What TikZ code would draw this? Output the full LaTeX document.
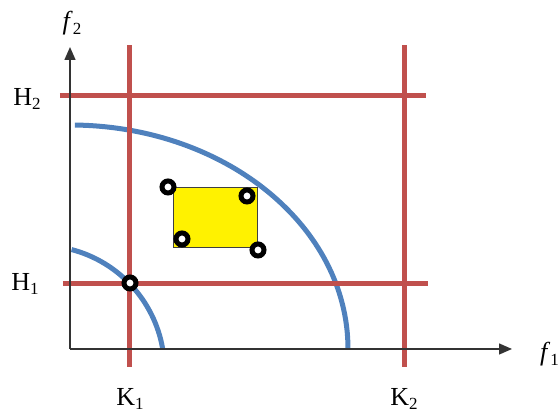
\documentclass[tikz,border=0pt]{standalone}
\usepackage{fontspec}
\setmainfont{Liberation Serif}
\usetikzlibrary{arrows.meta}
\definecolor{lineRed}{RGB}{192,80,77}
\definecolor{arcBlue}{RGB}{79,129,189}
\newcommand{\lowidx}[1]{\raisebox{-0.4ex}{\fontsize{17}{17}\selectfont #1}}

\begin{document}
\begin{tikzpicture}[x=1pt,y=1pt,
  axis/.style={draw=black!80, line width=1.4pt, -{Triangle[length=13pt,width=11pt]}},
  level/.style={draw=lineRed, line width=5pt},
  front/.style={draw=arcBlue, line width=5pt},
  marker/.style={circle, draw=black, fill=white, line width=5pt, minimum size=12pt, inner sep=0pt},
  lbl/.style={font=\fontsize{26}{26}\selectfont, inner sep=0pt}]
\useasboundingbox (-70,-65) rectangle (488,349);
% axes and levels
\coordinate (o) at (0,0);
\coordinate (xend) at (442,0);
\coordinate (yend) at (0,302);
\coordinate (k1b) at (60,-18); \coordinate (k1t) at (60,304);
\coordinate (k2b) at (334,-18); \coordinate (k2t) at (334,304);
\coordinate (h2l) at (-10,253); \coordinate (h2r) at (356,253);
\coordinate (h1l) at (-7,65); \coordinate (h1r) at (358,65);
% fronts
\draw[front] ({278*cos(89)},{224*sin(89)}) arc[start angle=89, end angle=0, x radius=278pt, y radius=224pt];
\draw[front] ({-30+124.5*cos(75.3)},{-21+124.5*sin(75.3)}) arc[start angle=75.3, end angle=9.9, radius=124.5pt];
\draw[level] (k1b) -- (k1t);
\draw[level] (k2b) -- (k2t);
\draw[level] (h2l) -- (h2r);
\draw[level] (h1l) -- (h1r);
\draw[axis] (o) -- (xend);
\draw[axis] (o) -- (yend);
% box and points
\node[draw=black!75, fill=yellow, line width=1pt, minimum width=84pt, minimum height=60pt, inner sep=0pt] (box) at (146,131) {};
\node[marker] (p1) at (98,162) {};
\node[marker] (p2) at (177,153) {};
\node[marker] (p3) at (112,110) {};
\node[marker] (p4) at (188,99) {};
\node[marker] (p5) at (60,66) {};
% labels
\node[lbl] (h2) at (-43,250) {H\lowidx{2}};
\node[lbl] (h1) at (-45,65) {H\lowidx{1}};
\node[lbl] (k1) at (60,-50) {K\lowidx{1}};
\node[lbl] (k2) at (334,-50) {K\lowidx{2}};
\node[lbl] (f2) at (2,326) {\textit{f}\lowidx{2}};
\node[lbl, anchor=west] (f1) at (470,-5) {\textit{f}\lowidx{1}};
\end{tikzpicture}
\end{document}
